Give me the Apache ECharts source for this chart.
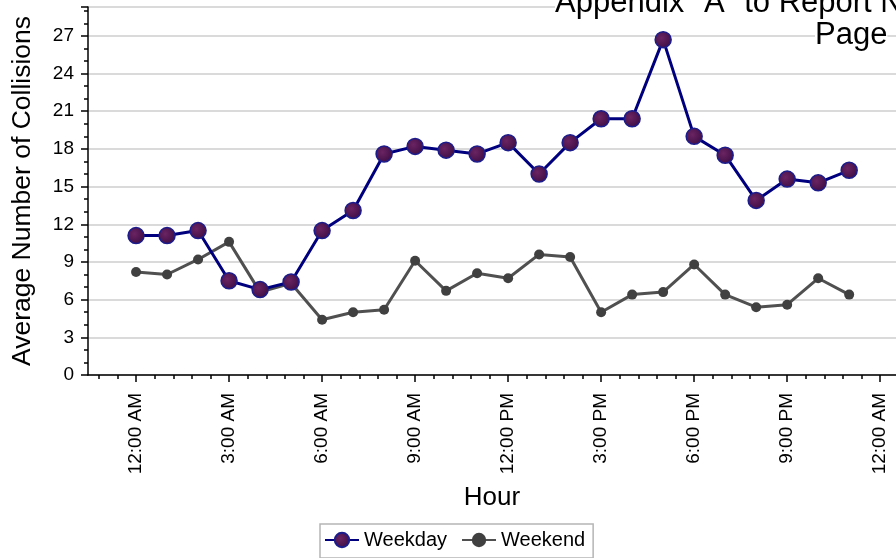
<!DOCTYPE html>
<html>
<head>
<meta charset="utf-8">
<script src="https://cdn.jsdelivr.net/npm/echarts@6/dist/echarts.min.js"></script>
<style>
    html, body { margin: 0; padding: 0; background: #fff; }
    #chart { width: 896px; height: 558px; }
</style>
</head>
<body>
<div id="chart"></div>
<script>
// hour of day (0 = midnight)
const hours = [0, 1, 2, 3, 4, 5, 6, 7, 8, 9, 10, 11, 12, 13, 14, 15, 16, 17, 18, 19, 20, 21, 22, 23]
const weekday = [11.1, 11.1, 11.5, 7.5, 6.8, 7.4, 11.5, 13.1, 17.6, 18.2, 17.9, 17.6, 18.5, 16.0, 18.5, 20.4, 20.4, 26.7, 19.0, 17.5, 13.9, 15.6, 15.3, 16.3]
const weekend = [8.2, 8.0, 9.2, 10.6, 6.6, 7.3, 4.4, 5.0, 5.2, 9.1, 6.7, 8.1, 7.7, 9.6, 9.4, 5.0, 6.4, 6.6, 8.8, 6.4, 5.4, 5.6, 7.7, 6.4]
const tickHours = [0, 3, 6, 9, 12, 15, 18, 21, 24]
const tickLabels = ['12:00 AM', '3:00 AM', '6:00 AM', '9:00 AM', '12:00 PM', '3:00 PM', '6:00 PM', '9:00 PM', '12:00 AM']

const font = "'Liberation Sans', Arial, sans-serif"

// minor ticks every 0.6 h (5 per 3 hours)
const minorHours = []
for (let i = -2; i <= 41; i++) minorHours.push(+(i * 0.6).toFixed(2))

const chart = echarts.init(document.getElementById('chart'))

const option = {
    backgroundColor: '#fff',
    animation: false,
    textStyle: { fontFamily: font },
    grid: { left: 88, right: 0, top: 7, bottom: 183 },
    graphic: [
        {
            type: 'text', left: 555, top: -12, z: 100,
            style: { text: 'Appendix "A" to Report No.', font: '31px ' + font, fill: '#000', backgroundColor: '#fff' }
        },
        {
            type: 'text', left: 815, top: 20, z: 100,
            style: { text: 'Page', font: '31px ' + font, fill: '#000', backgroundColor: '#fff' }
        }
    ],
    legend: {
        top: 524,
        left: 320,
        borderColor: '#b5b5b5',
        borderWidth: 1.5,
        padding: [6, 8, 8, 4],
        itemGap: 14,
        itemWidth: 34,
        itemHeight: 18,
        textStyle: { fontSize: 20, color: '#000', fontFamily: font },
        data: ['Weekday', 'Weekend']
    },
    xAxis: [
        {
            type: 'value',
            min: -1.55,
            max: 24.51,
            name: 'Hour',
            nameLocation: 'middle',
            nameGap: 110,
            nameTextStyle: { fontSize: 26, color: '#000', fontFamily: font },
            axisLine: { show: true, lineStyle: { color: '#000', width: 1.5 } },
            axisTick: { show: true, customValues: tickHours, length: 7, lineStyle: { color: '#000', width: 1.5 } },
            axisLabel: {
                customValues: tickHours,
                rotate: 90,
                margin: 18,
                fontSize: 19,
                color: '#000',
                fontFamily: font,
                formatter: v => tickLabels[tickHours.indexOf(Math.round(v))]
            },
            splitLine: { show: false }
        },
        {
            type: 'value',
            min: -1.55,
            max: 24.51,
            position: 'bottom',
            axisLine: { show: false },
            axisTick: { show: true, customValues: minorHours, length: 4, lineStyle: { color: '#000', width: 1.5 } },
            axisLabel: { show: false },
            splitLine: { show: false }
        }
    ],
    yAxis: {
        type: 'value',
        min: 0,
        max: 29.3,
        interval: 3,
        name: 'Average Number of Collisions',
        nameLocation: 'middle',
        nameGap: 52,
        nameTextStyle: { fontSize: 26.5, color: '#000', fontFamily: font },
        axisLine: { show: true, onZero: false, lineStyle: { color: '#000', width: 1.5 } },
        axisTick: { show: true, length: 7, lineStyle: { color: '#000', width: 1.5 } },
        minorTick: { show: true, splitNumber: 3, length: 4, lineStyle: { color: '#000', width: 1.5 } },
        axisLabel: { fontSize: 19, color: '#000', margin: 14, showMaxLabel: false, fontFamily: font },
        splitLine: { show: true, lineStyle: { color: '#dadada', width: 2 } }
    },
    series: [
        {
            name: 'Weekday',
            type: 'line',
            xAxisIndex: 0,
            data: hours.map((h, i) => [h, weekday[i]]),
            symbol: 'circle',
            symbolSize: 16,
            z: 3,
            lineStyle: { color: '#00007f', width: 3 },
            itemStyle: {
                color: new echarts.graphic.RadialGradient(0.4, 0.4, 0.7, [
                    { offset: 0, color: '#6a2462' },
                    { offset: 1, color: '#3a0b42' }
                ]),
                borderColor: '#1c1c8c',
                borderWidth: 1.5
            }
        },
        {
            name: 'Weekend',
            type: 'line',
            xAxisIndex: 0,
            data: hours.map((h, i) => [h, weekend[i]]),
            symbol: 'circle',
            symbolSize: 10,
            z: 2,
            lineStyle: { color: '#505050', width: 3 },
            itemStyle: { color: '#404040', borderColor: '#404040', borderWidth: 0 }
        }
    ]
}

chart.setOption(option)
</script>
</body>
</html>
